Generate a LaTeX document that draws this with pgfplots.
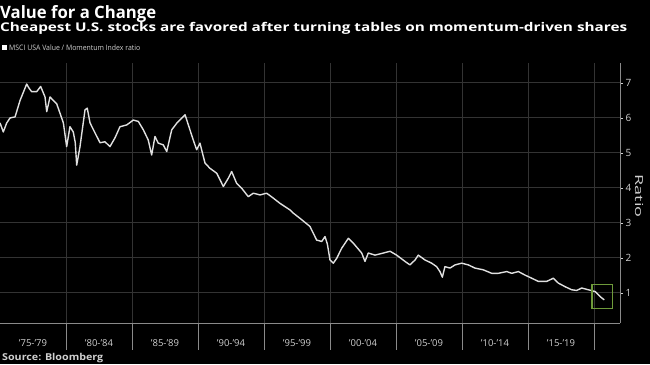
\documentclass[border=0pt]{standalone}
\usepackage{pgfplots}
\pgfplotsset{compat=1.18}
\usepackage{graphicx}
\usepackage{fontspec}
\setmainfont{Open Sans}
\definecolor{gridc}{HTML}{333333}
\definecolor{axc}{HTML}{8A8A8A}
\definecolor{txtc}{HTML}{D0D0D0}
\definecolor{linec}{HTML}{E0E0E0}
\definecolor{boxc}{HTML}{6E9A3A}
\pgfplotstableread{
x y
1975.00 5.86
1975.25 5.60
1975.50 5.85
1975.76 6.00
1976.14 6.03
1976.52 6.50
1977.02 6.97
1977.20 6.85
1977.40 6.75
1977.78 6.75
1978.08 6.90
1978.41 6.60
1978.54 6.18
1978.79 6.60
1979.04 6.50
1979.30 6.40
1979.80 5.86
1980.05 5.18
1980.30 5.75
1980.55 5.60
1980.70 5.30
1980.81 4.65
1981.06 5.18
1981.44 6.23
1981.61 6.28
1981.82 5.86
1982.20 5.57
1982.58 5.29
1982.95 5.32
1983.33 5.18
1983.71 5.43
1984.09 5.75
1984.60 5.80
1985.10 5.94
1985.48 5.90
1985.86 5.66
1986.23 5.37
1986.49 4.94
1986.74 5.47
1986.99 5.28
1987.37 5.23
1987.63 5.04
1988.01 5.66
1988.39 5.85
1989.02 6.09
1989.27 5.80
1989.64 5.37
1989.90 5.09
1990.15 5.28
1990.53 4.71
1990.91 4.56
1991.42 4.42
1991.92 4.04
1992.30 4.28
1992.55 4.47
1992.93 4.13
1993.31 3.99
1993.81 3.75
1994.19 3.85
1994.70 3.80
1995.20 3.85
1995.70 3.71
1996.21 3.56
1996.97 3.37
1997.22 3.28
1997.73 3.13
1998.48 2.90
1998.99 2.51
1999.37 2.47
1999.62 2.61
1999.80 2.40
2000.00 1.94
2000.25 1.85
2000.51 1.99
2000.89 2.28
2001.39 2.56
2001.77 2.42
2002.40 2.14
2002.65 1.90
2002.90 2.14
2003.41 2.08
2004.04 2.14
2004.55 2.19
2005.05 2.08
2005.68 1.90
2006.06 1.80
2006.44 1.94
2006.69 2.08
2007.20 1.94
2007.70 1.85
2008.08 1.75
2008.33 1.61
2008.51 1.45
2008.71 1.75
2009.09 1.71
2009.47 1.80
2009.98 1.85
2010.48 1.80
2010.98 1.71
2011.61 1.66
2012.25 1.56
2012.75 1.56
2013.39 1.61
2013.77 1.56
2014.27 1.61
2014.77 1.51
2015.28 1.42
2015.78 1.33
2016.42 1.33
2016.92 1.42
2017.30 1.28
2017.80 1.18
2018.31 1.09
2018.69 1.07
2019.07 1.14
2019.57 1.09
2020.08 1.04
2020.45 0.90
2020.78 0.80
}\ratiodata
\begin{document}
\begin{tikzpicture}
\fill[black] (0pt,0pt) rectangle (650pt,-364pt);
\useasboundingbox (0pt,0pt) rectangle (650pt,-364pt);
\node[anchor=base west, inner sep=0, text=white] at (0pt,-18.5pt) {\resizebox{156pt}{\height}{\fontsize{17}{17}\selectfont\bfseries Value for a Change}};
\node[anchor=base west, inner sep=0, text=white] at (0pt,-31.5pt) {\resizebox{627pt}{\height}{\fontsize{12}{12}\selectfont\bfseries Cheapest U.S. stocks are favored after turning tables on momentum-driven shares}};
\fill[white] (2pt,-44.5pt) rectangle (7pt,-49.5pt);
\node[anchor=base west, inner sep=0, text=txtc] at (9pt,-50pt) {\resizebox{131pt}{\height}{\fontsize{7.5}{7.5}\selectfont MSCI USA Value / Momentum Index ratio}};
\node[anchor=base west, inner sep=0, text=txtc] at (2pt,-360pt) {\resizebox{101pt}{\height}{\fontsize{9.5}{9.5}\selectfont\bfseries Source: Bloomberg}};
\node[rotate=-90, inner sep=0, text=txtc] at (639pt,-196pt) {\resizebox{43pt}{\height}{\fontsize{11}{11}\selectfont Ratio}};
\begin{axis}[
  at={(0pt,-323pt)}, anchor=south west, scale only axis,
  width=620pt, height=260pt,
  xmin=1975, xmax=2021.97, ymin=0.14, ymax=7.57,
  axis x line*=bottom, axis y line*=right,
  axis line style={draw=axc, line width=1pt},
  xtick={1980,1985,...,2020}, xticklabels={},
  ytick={1,...,7},
  tick align=outside, major tick length=3pt,
  tick style={draw=txtc, line width=0.8pt},
  xmajorgrids, ymajorgrids,
  grid style={draw=gridc, line width=1pt},
  yticklabel style={text=txtc, font=\fontsize{10}{10}\selectfont, xshift=-1pt},
  /pgf/number format/assume math mode=true,
  clip=false,
]
\addplot[draw=linec, line width=1.4pt, line join=round] table[x=x,y=y]{\ratiodata};
\pgfplotsinvokeforeach{1980,1985,1990,1995,2000,2005,2010,2015,2020}{
  \draw[draw=axc, line width=1pt] (axis cs:#1,0.14) -- ++(0pt,-27pt);
}
\draw[draw=boxc, line width=1.1pt] (axis cs:2019.85,1.25) rectangle (axis cs:2021.4,0.55);
\node[text=txtc, inner sep=0, font=\fontsize{9.5}{9.5}\selectfont] at ([yshift=-20pt]axis cs:1977.5,0.14) {’75-’79};
\node[text=txtc, inner sep=0, font=\fontsize{9.5}{9.5}\selectfont] at ([yshift=-20pt]axis cs:1982.5,0.14) {’80-’84};
\node[text=txtc, inner sep=0, font=\fontsize{9.5}{9.5}\selectfont] at ([yshift=-20pt]axis cs:1987.5,0.14) {’85-’89};
\node[text=txtc, inner sep=0, font=\fontsize{9.5}{9.5}\selectfont] at ([yshift=-20pt]axis cs:1992.5,0.14) {’90-’94};
\node[text=txtc, inner sep=0, font=\fontsize{9.5}{9.5}\selectfont] at ([yshift=-20pt]axis cs:1997.5,0.14) {’95-’99};
\node[text=txtc, inner sep=0, font=\fontsize{9.5}{9.5}\selectfont] at ([yshift=-20pt]axis cs:2002.5,0.14) {’00-’04};
\node[text=txtc, inner sep=0, font=\fontsize{9.5}{9.5}\selectfont] at ([yshift=-20pt]axis cs:2007.5,0.14) {’05-’09};
\node[text=txtc, inner sep=0, font=\fontsize{9.5}{9.5}\selectfont] at ([yshift=-20pt]axis cs:2012.5,0.14) {’10-’14};
\node[text=txtc, inner sep=0, font=\fontsize{9.5}{9.5}\selectfont] at ([yshift=-20pt]axis cs:2017.5,0.14) {’15-’19};
\end{axis}
\end{tikzpicture}
\end{document}
